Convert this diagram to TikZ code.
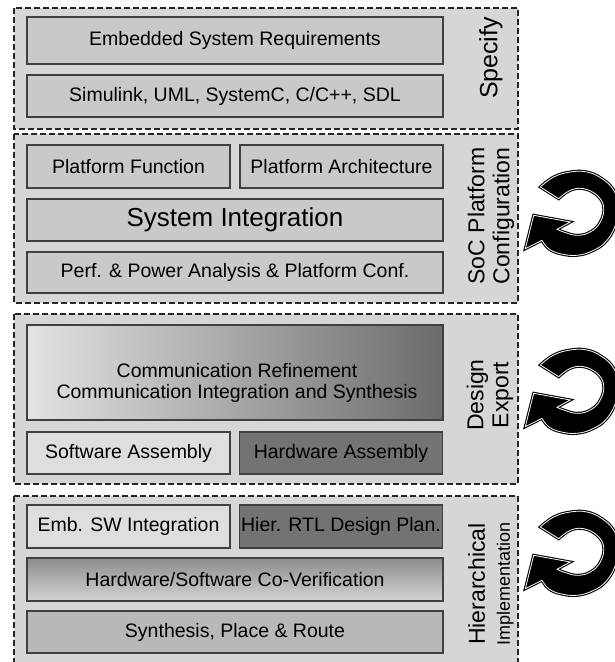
\documentclass[tikz,border=0pt]{standalone}
\usepackage{fontspec}
\setmainfont{Liberation Sans}

\begin{document}
\begin{tikzpicture}[x=1pt, y=-1pt,
    phase/.style={draw=black!85, line width=1.4pt, dash pattern=on 6pt off 3pt, fill=black!16},
    box/.style={draw=black!75, line width=1.2pt, fill=black!21, inner sep=0pt, minimum height=42pt,
        font=\fontsize{19.5}{22}\selectfont},
    wide/.style={box, minimum width=416pt},
    half/.style={box, minimum width=203pt},
    darkbox/.style={half, fill=black!55},
    lightbox/.style={half, fill=black!13},
    phaselabel/.style={rotate=90, align=center, font=\fontsize{23}{25}\selectfont},
    cyclearrow/.style={draw=black, fill=black, line width=1.1pt, double=white, double distance=0.8pt, line join=miter}
  ]
  \useasboundingbox (0,0) rectangle (615,662);
  \clip (0,0) rectangle (615,662);

  % phases
  \draw[phase] (14,8) rectangle (518,129);
  \draw[phase] (14,134) rectangle (518,303);
  \draw[phase] (14,314) rectangle (518,484);
  \draw[phase] (14,496) rectangle (518,670);

  % specify
  \node (req) at (235,40.5) [wide, minimum height=47pt] {Embedded System Requirements};
  \node (lang) at (235,96) [wide] {Simulink, UML, SystemC, C/C++, SDL};

  % platform configuration
  \node (pfunc) at (128.5,166.5) [half, minimum height=43pt] {Platform Function};
  \node (parch) at (341.5,166.5) [half, minimum height=43pt] {Platform Architecture};
  \node (sysint) at (235,220) [wide, font=\fontsize{26}{28}\selectfont] {System Integration};
  \node (perf) at (235,272.5) [wide, minimum height=41pt] {Perf. \& Power Analysis \& Platform Conf.};

  % design export
  \node (comm) at (235,372.5) [wide, minimum height=95pt, left color=black!11, middle color=black!24, right color=black!58] {};
  \node (commtext) at (237,383) [align=center, font=\fontsize{19.5}{21.5}\selectfont] {Communication Refinement\\Communication Integration and Synthesis};
  \node (swasm) at (128.5,453) [lightbox] {Software Assembly};
  \node (hwasm) at (341,453) [darkbox] {Hardware Assembly};

  % implementation
  \node (embsw) at (128.5,526.5) [lightbox, minimum height=43pt] {Emb. SW Integration};
  \node (rtl) at (341,526.5) [darkbox, minimum height=43pt] {Hier. RTL Design Plan.};
  \node (cover) at (235,579.5) [wide, minimum height=43pt, top color=black!45, bottom color=black!17] {Hardware/Software Co-Verification};
  \node (synth) at (235,632) [wide, fill=black!28] {Synthesis, Place \& Route};

  % phase names
  \node (specify) at (491,58) [phaselabel, font=\fontsize{25}{27}\selectfont] {Specify};
  \node (soc) at (491,216) [phaselabel] {SoC Platform\\Configuration};
  \node (export) at (490,395) [phaselabel] {Design\\Export};
  \node (hier) at (491,584) [phaselabel] {Hierarchical\\{\fontsize{18}{25}\selectfont Implementation}};

  % iteration arrows
  \foreach \cy in {214,392,554} {
    \draw[cyclearrow, shift={(582,\cy)}] (-41.7,-27)
      -- plot[smooth, tension=0.7] coordinates {(-41.7,-27) (-28.3,-37) (-11.7,-42) (5,-42) (20,-35.3) (31.7,-23.7) (37,-7) (34,9.7) (25,26.3) (11.7,36.3) (-5,41.3) (-21.7,39.7) (-33.3,34.7) (-40,26.3)}
      -- (-56.7,34.7) -- (-48.3,1.3) -- (-11.7,8) -- (-25,15.3)
      -- plot[smooth, tension=0.7] coordinates {(-25,15.3) (-18.3,18) (-5,21.3) (8.3,18) (18.3,8) (21.7,-7) (15,-18.7) (1.7,-25.3) (-11.7,-23.7) (-23.3,-15.3)}
      -- cycle;
  }
\end{tikzpicture}
\end{document}
